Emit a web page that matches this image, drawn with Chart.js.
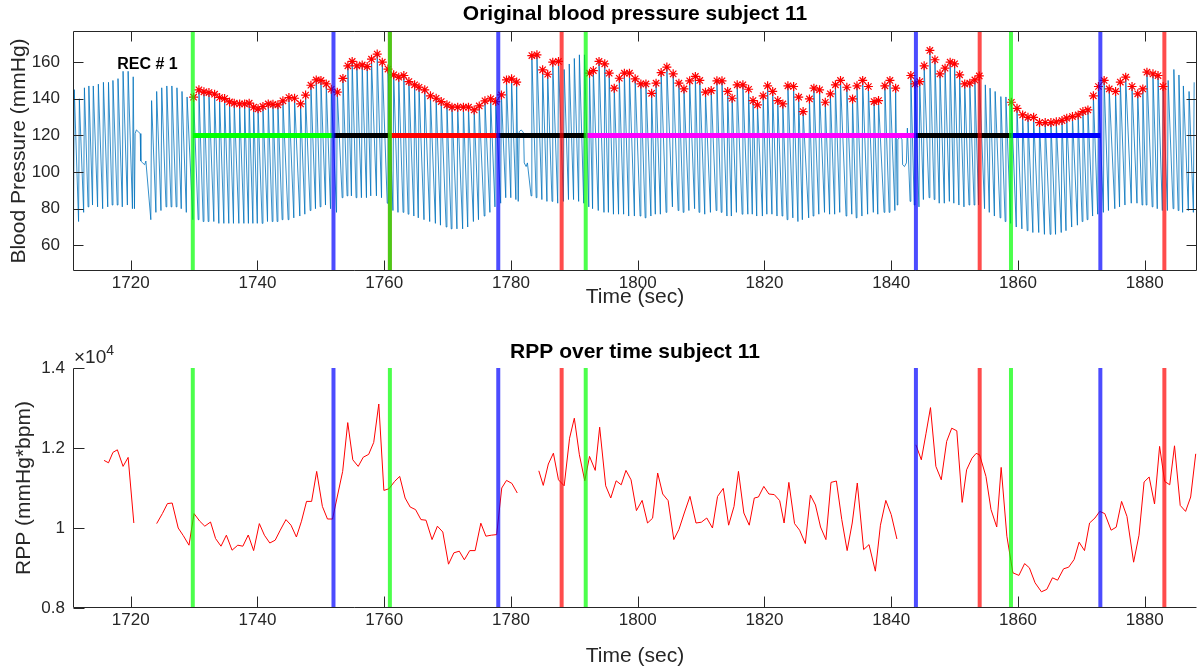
<!DOCTYPE html>
<html>
<head>
<meta charset="utf-8">
<title>Blood pressure subject 11</title>
<script src="https://cdn.jsdelivr.net/npm/chart.js@4.4.1/dist/chart.umd.min.js"></script>
<style>
  html, body { margin: 0; padding: 0; background: #fff; }
  #wrap { position: relative; width: 1198px; height: 670px; }
  canvas { position: absolute; left: 0; }
  #bp_canvas { top: 0; }
  #rpp_canvas { top: 320px; }
</style>
</head>
<body>
<div id="wrap">
  <canvas id="bp_canvas" width="1198" height="320"></canvas>
  <canvas id="rpp_canvas" width="1198" height="350"></canvas>
</div>
<script>
// ---- axes ----
const x_min = 1710.9, x_max = 1888.25;
const x_ticks = [1720, 1740, 1760, 1780, 1800, 1820, 1840, 1860, 1880];
const bp_min = 46, bp_max = 177;
const bp_ticks = [60, 80, 100, 120, 140, 160];
const rpp_min = 8000, rpp_max = 14000;
const rpp_ticks = [8000, 10000, 12000, 14000];

// ---- protocol events (sec) ----
const event_t    = [1729.8, 1752.0, 1760.9, 1778.0, 1788.0, 1791.8, 1843.9, 1853.96, 1858.9, 1873.0, 1883.1];
const event_kind = ['start', 'end', 'start', 'end', 'stop', 'start', 'end', 'stop', 'start', 'end', 'stop'];
// a stop mark hidden under the second start line (pressure plot only)
const bp_hidden_stop = [1760.9];

// ---- phase bars drawn at 120 mmHg ----
const phase_from  = [1729.8, 1752.0, 1760.9, 1778.0, 1791.8, 1843.9, 1858.9];
const phase_to    = [1752.0, 1760.9, 1778.0, 1791.8, 1843.9, 1858.9, 1873.0];
const phase_color = ['#00ff00', '#000000', '#ff0000', '#000000', '#ff00ff', '#000000', '#0000ff'];
const phase_level = 120;

// ---- blood pressure beats: peak time, systolic, diastolic ----
const seg_a_t   = [1711.1, 1711.9, 1712.7, 1713.4, 1714.1, 1714.9, 1715.7, 1716.5, 1717.2, 1718.0, 1718.8, 1719.6, 1720.4];
const seg_a_sys = [145, 140, 146, 147, 147, 148, 149, 149, 150, 151, 155, 155, 152];
const seg_a_dia = [75, 73, 78, 81, 82, 81, 80, 81, 82, 82, 81, 82, 80];

const seg_b_t = [1723.3, 1724.1, 1724.9, 1725.7, 1726.5, 1727.3, 1728.1, 1728.9,
  1729.93, 1730.77, 1731.56, 1732.35, 1733.24, 1734.03, 1734.82, 1735.6, 1736.34, 1737.19,
  1737.98, 1738.7, 1739.4, 1740.1, 1740.87, 1741.71, 1742.45, 1743.23, 1744.02, 1744.97,
  1745.86, 1746.81, 1747.6, 1748.44, 1749.28, 1750.02, 1750.86, 1751.65, 1752.6, 1753.49,
  1754.27, 1754.95, 1755.69, 1756.53, 1757.32,
  1758.0, 1758.9, 1759.7, 1760.6, 1761.5, 1762.3, 1763.1, 1763.9, 1764.8, 1765.5,
  1766.4, 1767.3, 1768.2, 1769.0, 1769.9, 1770.7, 1771.6, 1772.5, 1773.3, 1774.2,
  1775.0, 1775.9, 1776.8, 1777.6, 1778.5, 1779.3, 1780.1, 1780.9];
const seg_b_sys = [139, 144, 146, 147, 147, 146, 144, 141,
  140.9, 144.9, 143.8, 143.4, 142.5, 140.7, 140.1, 138.3, 137.6, 137.2,
  137.2, 137.6, 135.4, 134.5, 135.8, 137.2, 137.0, 136.7, 138.9, 140.7,
  140.3, 137.2, 142.0, 147.4, 150.3, 150.0, 148.1, 145.2, 143.6, 151.1,
  158.0, 160.4, 158.0, 158.5, 157.6,
  161.6, 164.4, 160.0, 156.2, 153.1, 151.8, 152.7, 149.4, 147.6, 146.3,
  144.9, 141.6, 140.3, 138.5, 136.7, 135.4, 135.4, 135.4, 135.4, 133.9,
  136.1, 138.9, 140.0, 138.5, 142.1, 150.3, 150.9, 149.1];
const seg_b_dia = [74, 78, 79, 81, 81, 81, 80, 78,
  74, 74, 73, 73, 73, 72, 72, 72, 72, 72,
  72, 72, 72, 72, 72, 73, 73, 73, 74, 74,
  75, 76, 77, 79, 80, 81, 82, 80, 78, 86,
  87, 87, 86, 86, 86,
  87, 87, 86, 83, 79, 78, 78, 77, 76, 75,
  74, 73, 72, 71, 70, 69, 69, 69, 70, 73,
  74, 76, 78, 81, 83, 86, 86, 85];

const seg_c_t = [1783.3, 1784.1, 1785.0, 1785.8, 1786.6, 1787.5, 1788.4, 1789.2, 1790.0, 1790.8,
  1791.6, 1792.4, 1793.0, 1793.9, 1794.8, 1795.5, 1796.3, 1797.1, 1797.9, 1798.7,
  1799.6, 1800.5, 1801.3, 1802.2, 1802.9, 1803.7, 1804.6,
  1805.6, 1806.5, 1807.3, 1808.2, 1809.1, 1809.8, 1810.7, 1811.6, 1812.5, 1813.3,
  1814.2, 1814.9, 1815.7, 1816.6, 1817.5, 1818.2, 1818.9, 1819.8, 1820.5, 1821.3,
  1822.1, 1822.9, 1823.7, 1824.6, 1825.4, 1826.1, 1827.1, 1827.8, 1828.7, 1829.6,
  1830.4, 1831.2, 1832.0, 1833.0, 1833.9, 1834.6, 1835.5, 1836.4, 1837.3, 1838.0,
  1839.0, 1839.8, 1840.7];
const seg_c_sys = [163.6, 164, 155.8, 153.4, 160, 160.4, 156, 159, 162, 164,
  164, 154, 155.4, 160.4, 159.1, 154, 145.8, 151.2, 154, 154,
  150.9, 148.1, 148.1, 143, 148.5, 154.3, 157.3,
  153.6, 148.5, 145.4, 149.8, 152.2, 150, 143.6, 144.5, 149.8, 149.8,
  144, 140.3, 147.6, 147.6, 145.2, 139, 136.7, 141.6, 147.1, 144,
  139, 137.2, 147.1, 146.7, 140.9, 133, 139.9, 145.8, 144.9, 138.1,
  142.7, 147.6, 150, 146.3, 139.9, 147.1, 150, 146.7, 138.5, 139,
  147.1, 150, 145.8];
const seg_c_dia = [87, 86, 85, 84, 84, 83, 84, 85, 85, 84,
  83, 81, 80, 79, 78, 78, 77, 77, 77, 76,
  76, 76, 75, 76, 77, 77, 78,
  81, 79, 78, 79, 80, 78, 77, 78, 79, 78,
  76, 76, 78, 77, 77, 77, 76, 76, 77, 77,
  76, 76, 74, 75, 73, 74, 75, 76, 77, 78,
  77, 77, 78, 76, 77, 75, 76, 77, 78, 77,
  78, 78, 79];

const seg_d_t = [1843.1, 1843.75, 1844.5, 1845.2, 1846.1, 1846.9, 1847.7, 1848.5, 1849.3, 1850.0,
  1850.8, 1851.6, 1852.4, 1853.2, 1853.9, 1854.85, 1855.6, 1856.4, 1857.3, 1858.1,
  1858.96, 1859.85, 1860.74, 1861.58, 1862.47, 1863.4, 1864.3, 1865.2, 1866.05, 1866.95,
  1867.7, 1868.6, 1869.5, 1870.25, 1871.04, 1871.9, 1872.7, 1873.6, 1874.4, 1875.4,
  1876.15, 1877.0, 1878.0, 1878.9, 1879.7, 1880.35, 1881.3, 1882.1, 1882.9, 1883.7,
  1884.6, 1885.4, 1886.1, 1887.0, 1887.8];
const seg_d_sys = [152.7, 148.1, 149.4, 158, 166.4, 161.3, 153.6, 156.7, 160, 159.1,
  153.1, 148.1, 148.5, 150.3, 152.5, 147.6, 145.8, 144, 141.2, 141,
  138.1, 134.8, 131.2, 129.9, 129.9, 127, 127, 127, 127.4, 128.1,
  129.4, 130.3, 131.2, 133, 133.9, 141.6, 146.7, 150, 145.4, 144,
  149.1, 151.8, 146.7, 142.7, 145.4, 154.5, 153.6, 152.7, 146.7, 150,
  156, 153, 147, 144, 149];
const seg_d_dia = [84, 82, 81, 85, 86, 85, 83, 83, 84, 83,
  82, 81, 82, 82, 82, 80, 78, 76, 75, 73,
  72, 70, 69, 68, 67, 67, 66, 66, 66, 67,
  68, 70, 71, 73, 74, 76, 77, 78, 79, 80,
  81, 82, 83, 83, 82, 82, 81, 80, 79, 79,
  80, 79, 78, 79, 78];

// calibration / artefact stretches of the pressure trace
const art1_t  = [1720.6, 1720.7, 1720.9, 1721.2, 1721.5, 1721.6, 1721.9, 1722.2, 1722.4];
const art1_bp = [80, 121, 123, 122, 121, 106, 105, 104, 106];
const art2_t  = [1781.15, 1781.3, 1781.6, 1781.9, 1782.0, 1782.1, 1782.4, 1782.6];
const art2_bp = [84, 122, 123, 122, 121, 105, 103, 105];
const art3_t  = [1840.95, 1841.05, 1841.4, 1841.7, 1841.8, 1842.1, 1842.4, 1842.55];
const art3_bp = [82, 118, 119, 118, 104, 103, 105, 124];

// ---- RPP (mmHg*bpm), one value per beat ----
const rpp_t1 = [1715.8, 1716.5, 1717.2, 1717.9, 1718.8, 1719.6, 1720.5];
const rpp_v1 = [11690, 11630, 11890, 11955, 11540, 11765, 10125];

const rpp_t2 = [1724.1, 1725.0, 1725.8, 1726.55, 1727.5, 1728.3, 1729.2, 1730.0, 1730.9, 1731.7,
  1732.6, 1733.4, 1734.25, 1735.1, 1736.0, 1736.9, 1737.7, 1738.55, 1739.4, 1740.3,
  1741.1, 1741.95, 1742.8, 1743.6, 1744.5, 1745.3, 1746.15, 1746.95, 1747.75, 1748.55,
  1749.35, 1750.25, 1751.05, 1751.85, 1753.45, 1754.25, 1755.05, 1755.9, 1756.7, 1757.55,
  1758.35, 1759.15, 1759.95, 1760.75, 1761.65, 1762.45, 1763.3, 1764.1, 1764.95, 1765.8,
  1766.6, 1767.55, 1768.4, 1769.25, 1770.15, 1771.0, 1771.85, 1772.65, 1773.5, 1774.35,
  1775.25, 1776.05, 1776.9, 1777.75, 1778.55, 1779.3, 1780.15, 1781.0];
const rpp_v2 = [10110, 10360, 10610, 10625, 10000, 9810, 9570, 10360, 10170, 10045,
  10150, 9735, 9545, 9820, 9445, 9570, 9545, 9825, 9435, 10110,
  9820, 9625, 9695, 9945, 10210, 10070, 9775, 10170, 10665, 10665,
  11415, 10540, 10225, 10225, 11415, 12635, 11705, 11540, 11770, 11840,
  12140, 13100, 10940, 10980, 11165, 11290, 10750, 10525, 10460, 10210,
  10195, 9710, 10045, 9900, 9095, 9380, 9420, 9205, 9435, 9435,
  10120, 9795, 9820, 9835, 11000, 11190, 11115, 10875];

const rpp_t3 = [1784.4, 1785.1, 1785.9, 1786.7, 1787.5, 1788.4, 1789.25, 1790.0, 1790.8, 1791.65,
  1792.4, 1793.3, 1794.0, 1794.95, 1795.75, 1796.6, 1797.4, 1798.15, 1798.95, 1799.8,
  1800.7, 1801.55, 1802.35, 1803.15, 1803.95, 1804.8, 1805.7, 1806.5, 1807.35, 1808.25,
  1809.2, 1810.05, 1810.9, 1811.8, 1812.6, 1813.5, 1814.35, 1815.2, 1815.9, 1816.75,
  1817.6, 1818.4, 1819.05, 1819.9, 1820.7, 1821.55, 1822.4, 1823.1, 1823.85, 1824.75,
  1825.55, 1826.45, 1827.25, 1828.05, 1828.85, 1829.7, 1830.5, 1831.35, 1832.2, 1833.05,
  1833.85, 1834.65, 1835.65, 1836.5, 1837.5, 1838.3, 1839.15, 1840.0, 1840.9];
const rpp_v3 = [11430, 11065, 11600, 11870, 11205, 11055, 12245, 12745, 11830, 11180,
  11790, 11440, 12520, 11055, 10750, 11180, 11080, 11440, 11205, 10435,
  10690, 10125, 10245, 11375, 10850, 10685, 9710, 9960, 10375, 10790,
  10125, 10145, 10250, 10000, 10790, 10990, 10070, 10540, 11415, 10375,
  10070, 10750, 10775, 11040, 10850, 10835, 10685, 10125, 11140, 10110,
  9945, 9610, 10825, 10575, 10025, 9710, 11140, 11175, 10210, 9435,
  10125, 11125, 9460, 9585, 8920, 10070, 10690, 10335, 9725];

const rpp_t4 = [1843.9, 1844.75, 1845.5, 1846.2, 1847.05, 1847.9, 1848.75, 1849.55, 1850.35, 1851.2,
  1851.9, 1852.75, 1853.4, 1853.95, 1854.95, 1855.75, 1856.65, 1857.35, 1858.25, 1859.2,
  1860.15, 1861.05, 1861.8, 1862.7, 1863.7, 1864.55, 1865.45, 1866.25, 1867.2, 1868.0,
  1868.85, 1869.65, 1870.5, 1871.3, 1872.15, 1872.9, 1873.7, 1874.7, 1875.5, 1876.35,
  1877.2, 1878.25, 1879.1, 1879.9, 1880.7, 1881.55, 1882.35, 1883.15, 1883.95, 1884.7,
  1885.6, 1886.45, 1887.25, 1888.05];
const rpp_v4 = [12080, 11705, 12370, 13010, 11540, 11205, 12165, 12495, 12430, 10640,
  11455, 11745, 11865, 11830, 11290, 10460, 10025, 11515, 9795, 8880,
  8815, 9110, 9005, 8630, 8405, 8465, 8755, 8695, 8980, 9020,
  9210, 9645, 9435, 10125, 10250, 10415, 10360, 9945, 10020, 10665,
  10290, 9145, 9820, 11150, 11275, 10600, 12040, 11165, 11080, 12055,
  10565, 10415, 10775, 11855];

// text annotation inside the pressure plot
const rec_label = 'REC # 1', rec_x = 1722.65, rec_y = 158.5;

// ---- styling ----
const font_family = '"Liberation Sans", Arial, Helvetica, sans-serif';
Chart.defaults.font.family = font_family;
Chart.defaults.color = '#262626';

const kind_color = { start: 'rgba(0,255,0,0.7)', end: 'rgba(0,0,255,0.7)', stop: 'rgba(255,0,0,0.7)' };
const upstroke = 0.12;   // trough sits just before each systolic peak

// build the pressure trace from beats + artefact stretches
const bp_points = [];
const add_beats = (t, sys, dia) => {
  for (let i = 0; i < t.length; i++) {
    bp_points.push({ x: t[i] - upstroke, y: dia[i] });
    bp_points.push({ x: t[i], y: sys[i] });
  }
};
const add_trace = (t, v) => {
  for (let i = 0; i < t.length; i++) bp_points.push({ x: t[i], y: v[i] });
};
add_beats(seg_a_t, seg_a_sys, seg_a_dia);
add_beats(seg_b_t, seg_b_sys, seg_b_dia);
add_beats(seg_c_t, seg_c_sys, seg_c_dia);
add_beats(seg_d_t, seg_d_sys, seg_d_dia);
add_trace(art1_t, art1_bp);
add_trace(art2_t, art2_bp);
add_trace(art3_t, art3_bp);
bp_points.sort((a, b) => a.x - b.x);

// peaks are marked from a 'start' event until the next 'stop' event
const marked = (t) => {
  let on = false;
  for (let i = 0; i < event_t.length; i++) {
    if (event_t[i] > t) break;
    if (event_kind[i] == 'start') on = true;
    if (event_kind[i] == 'stop') on = false;
  }
  return on;
};
const star_points = [];
[[seg_b_t, seg_b_sys], [seg_c_t, seg_c_sys], [seg_d_t, seg_d_sys]].forEach(([t, s]) => {
  t.forEach((x, i) => { if (marked(x)) star_points.push({ x: x, y: s[i] }); });
});

const vline = (t, color, lo, hi, order) => ({
  data: [{ x: t, y: lo }, { x: t, y: hi }],
  borderColor: color, borderWidth: 4, borderCapStyle: 'butt', pointRadius: 0, order: order
});
const event_sets = (lo, hi) => event_t.map((t, i) => vline(t, kind_color[event_kind[i]], lo, hi, 0));

const phase_sets = phase_from.map((f, i) => ({
  data: [{ x: f, y: phase_level }, { x: phase_to[i], y: phase_level }],
  borderColor: phase_color[i], borderWidth: 5, borderCapStyle: 'butt', pointRadius: 0, order: 1
}));

const rpp_sets = [[rpp_t1, rpp_v1], [rpp_t2, rpp_v2], [rpp_t3, rpp_v3], [rpp_t4, rpp_v4]].map(([t, v]) => ({
  data: t.map((x, i) => ({ x: x, y: v[i] })),
  borderColor: '#ff0000', borderWidth: 1, pointRadius: 0, order: 2
}));

// MATLAB-like frame: inward ticks, optional box, title, extra text
const matlab_axes = {
  id: 'matlab_axes',
  afterDatasetsDraw(chart, args, o) {
    const { ctx, chartArea: a } = chart;
    const xs = chart.scales.x, ys = chart.scales.y;
    const L = Math.round(a.left) + 0.5, R = Math.round(a.right) - 0.5;
    const T = Math.round(a.top) + 0.5, B = Math.round(a.bottom) - 0.5;
    ctx.save();
    ctx.strokeStyle = '#262626';
    ctx.lineWidth = 1;
    ctx.beginPath();
    ctx.moveTo(L, T); ctx.lineTo(L, B); ctx.lineTo(R, B);
    if (o.box) { ctx.moveTo(L, T); ctx.lineTo(R, T); ctx.lineTo(R, B); }
    x_ticks.forEach(v => {
      const px = Math.round(xs.getPixelForValue(v)) + 0.5;
      ctx.moveTo(px, B); ctx.lineTo(px, B - o.tick);
      if (o.box) { ctx.moveTo(px, T); ctx.lineTo(px, T + o.tick); }
    });
    o.y_ticks.forEach(v => {
      const py = Math.round(ys.getPixelForValue(v)) + 0.5;
      ctx.moveTo(L, py); ctx.lineTo(L + o.tick, py);
      if (o.box) { ctx.moveTo(R, py); ctx.lineTo(R - o.tick, py); }
    });
    ctx.stroke();

    ctx.fillStyle = '#000';
    ctx.textAlign = 'center';
    ctx.textBaseline = 'middle';
    ctx.font = 'bold 21px ' + font_family;
    ctx.fillText(o.title, (a.left + a.right) / 2, o.title_y);

    if (o.note) {
      ctx.font = 'bold 16px ' + font_family;
      ctx.fillText(o.note.text, xs.getPixelForValue(o.note.x), ys.getPixelForValue(o.note.y));
    }
    if (o.exponent) {
      ctx.fillStyle = '#262626';
      ctx.textAlign = 'left';
      ctx.textBaseline = 'alphabetic';
      ctx.font = '19px ' + font_family;
      ctx.fillText('\u00d710', a.left + 1, a.top - 5);
      const w = ctx.measureText('\u00d710').width;
      ctx.font = '14px ' + font_family;
      ctx.fillText(o.exponent, a.left + 1 + w, a.top - 13);
    }
    ctx.restore();
  }
};

const x_scale = (h, tick_pad, title_pad) => ({
  type: 'linear', min: x_min, max: x_max,
  grid: { display: false, drawTicks: false }, border: { display: false },
  afterBuildTicks: s => { s.ticks = x_ticks.map(v => ({ value: v })); },
  afterFit: s => { s.height = h; },
  ticks: { font: { size: 17 }, padding: tick_pad, maxRotation: 0, autoSkip: false, callback: v => String(v) },
  title: { display: true, text: 'Time (sec)', font: { size: 21 }, color: '#262626', padding: { top: 0, bottom: title_pad } }
});

new Chart(document.getElementById('bp_canvas'), {
  type: 'line',
  data: {
    datasets: [
      ...event_sets(bp_min, bp_max),
      ...bp_hidden_stop.map(t => vline(t, kind_color.stop, bp_min, bp_max, 0.5)),
      ...phase_sets,
      { data: star_points, showLine: false, pointStyle: 'star', pointRadius: 4.5,
        borderColor: '#ff0000', borderWidth: 1.2, order: 2 },
      { data: bp_points, borderColor: '#0072bd', borderWidth: 0.8, pointRadius: 0, tension: 0, order: 3 }
    ]
  },
  options: {
    responsive: false, animation: false, devicePixelRatio: 1,
    layout: { autoPadding: false, padding: { top: 31, right: 1, left: 0, bottom: 0 } },
    plugins: {
      legend: { display: false }, tooltip: { enabled: false },
      matlab_axes: { box: true, tick: 10, y_ticks: bp_ticks, title: 'Original blood pressure subject 11', title_y: 14,
        note: { text: rec_label, x: rec_x, y: rec_y } }
    },
    scales: {
      x: x_scale(49, 2, 10),
      y: {
        min: bp_min, max: bp_max,
        grid: { display: false, drawTicks: false }, border: { display: false },
        afterBuildTicks: s => { s.ticks = bp_ticks.map(v => ({ value: v })); },
        afterFit: s => { s.width = 73; },
        ticks: { font: { size: 17 }, padding: 13, callback: v => String(v) },
        title: { display: true, text: 'Blood Pressure (mmHg)', font: { size: 21 }, color: '#262626', padding: { top: 7, bottom: 0 } }
      }
    }
  },
  plugins: [matlab_axes]
});

new Chart(document.getElementById('rpp_canvas'), {
  type: 'line',
  data: { datasets: [...event_sets(rpp_min, rpp_max), ...rpp_sets] },
  options: {
    responsive: false, animation: false, devicePixelRatio: 1,
    layout: { autoPadding: false, padding: { top: 48, right: 1, left: 0, bottom: 0 } },
    plugins: {
      legend: { display: false }, tooltip: { enabled: false },
      matlab_axes: { box: false, tick: 11, y_ticks: rpp_ticks, title: 'RPP over time subject 11', title_y: 32,
        exponent: '4' }
    },
    scales: {
      x: x_scale(62, 2, 1),
      y: {
        min: rpp_min, max: rpp_max,
        grid: { display: false, drawTicks: false }, border: { display: false },
        afterBuildTicks: s => { s.ticks = rpp_ticks.map(v => ({ value: v })); },
        afterFit: s => { s.width = 73; },
        ticks: { font: { size: 17 }, padding: 8, callback: v => String(v / 10000) },
        title: { display: true, text: 'RPP (mmHg*bpm)', font: { size: 21 }, color: '#262626', padding: { top: 12, bottom: 0 } }
      }
    }
  },
  plugins: [matlab_axes]
});
</script>
</body>
</html>
